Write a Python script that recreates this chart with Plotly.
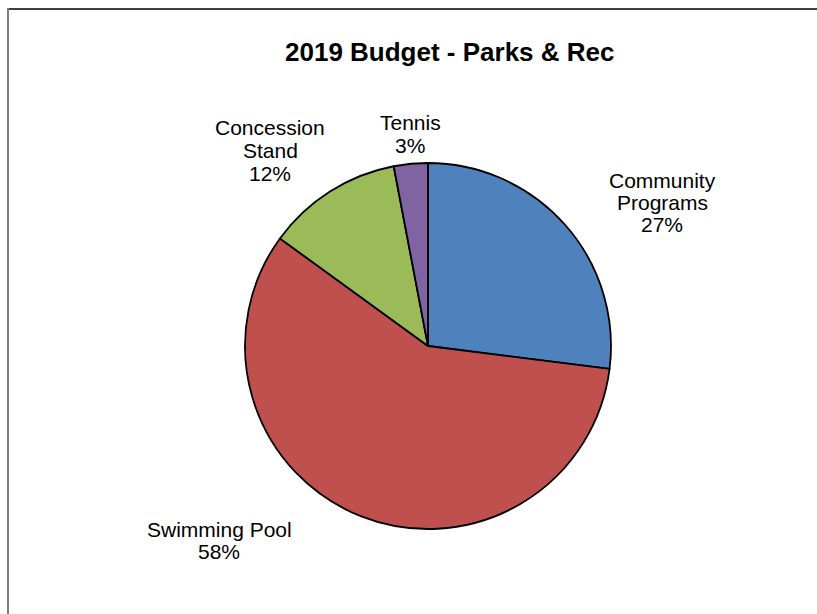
import plotly.graph_objects as go

# Budget categories and their share of the 2019 Parks & Rec budget (percent)
categories = ["Community Programs", "Swimming Pool", "Concession Stand", "Tennis"]
shares = [27, 58, 12, 3]
slice_colors = ["#4F81BD", "#C0504D", "#9BBB59", "#8064A2"]
label_lines = [["Community", "Programs"], ["Swimming Pool"], ["Concession", "Stand"], ["Tennis"]]

W, H = 817, 614
cx, cy, R = 428, 346, 183          # pie centre and radius in pixels
label_anchor = [(662, 180), (219, 529), (270, 128), (410, 123)]  # first-line centre, pixels
line_step = 22.5
FONT = "Arial, 'Liberation Sans', sans-serif"

fig = go.Figure(
    go.Pie(
        labels=categories,
        values=shares,
        sort=False,
        direction="clockwise",
        rotation=0,
        marker=dict(colors=slice_colors, line=dict(color="black", width=1.8)),
        textinfo="none",
        hoverinfo="label+percent",
        showlegend=False,
        domain=dict(x=[(cx - R) / W, (cx + R) / W], y=[(H - cy - R) / H, (H - cy + R) / H]),
    )
)

total = sum(shares)
annotations = []
for lines, v, (ax, ay) in zip(label_lines, shares, label_anchor):
    text_lines = lines + [f"{round(100 * v / total)}%"]
    for i, t in enumerate(text_lines):
        annotations.append(
            dict(
                text=t, x=ax / W, y=1 - (ay + i * line_step) / H,
                xref="paper", yref="paper", xanchor="center", yanchor="middle",
                showarrow=False, font=dict(family=FONT, size=21, color="black"),
            )
        )

annotations.append(
    dict(
        text="<b>2019 Budget - Parks & Rec</b>", x=450 / W, y=1 - 52 / H,
        xref="paper", yref="paper", xanchor="center", yanchor="middle",
        showarrow=False, font=dict(family=FONT, size=26, color="black"),
    )
)

shapes = [
    dict(type="line", xref="paper", yref="paper", x0=7 / W, x1=1.05, y0=1 - 9 / H, y1=1 - 9 / H,
         line=dict(color="#404040", width=2)),
    dict(type="line", xref="paper", yref="paper", x0=8 / W, x1=8 / W, y0=1 - 8 / H, y1=-0.05,
         line=dict(color="#808080", width=2)),
]

fig.update_layout(
    width=W, height=H,
    margin=dict(l=0, r=0, t=0, b=0),
    paper_bgcolor="white", plot_bgcolor="white",
    annotations=annotations, shapes=shapes,
)

fig.write_html("out.html")
